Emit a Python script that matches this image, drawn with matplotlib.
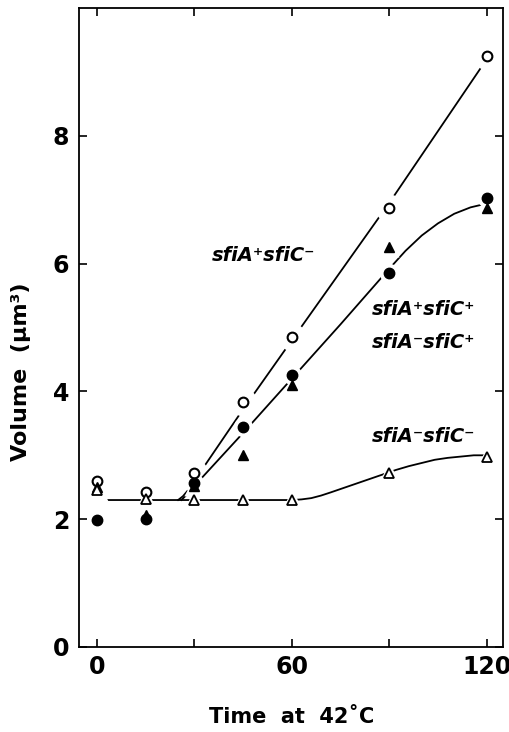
import matplotlib
matplotlib.use("Agg")
import matplotlib.pyplot as plt

# measured points (time at 42C in min, volume in um^3)
time = [0, 15, 30, 45, 60, 90, 120]
open_circle = [2.6, 2.42, 2.72, 3.84, 4.85, 6.87, 9.25]      # sfiA+ sfiC-
filled_circle = [1.98, 2.0, 2.57, 3.45, 4.25, 5.86, 7.03]    # sfiA+ sfiC+
filled_triangle = [2.5, 2.07, 2.52, 3.0, 4.1, 6.26, 6.87]    # sfiA- sfiC+
open_triangle = [2.45, 2.32, 2.3, 2.3, 2.3, 2.72, 2.98]      # sfiA- sfiC-

# hand drawn fit curves
curve_open_t = [25, 26.5, 28, 30, 45, 60, 90, 120]
curve_open_v = [2.3, 2.36, 2.45, 2.6, 3.72, 4.8, 6.95, 9.2]
curve_filled_t = [26, 28, 30, 45, 60, 75, 90, 95, 100, 105, 110, 115, 120]
curve_filled_v = [2.3, 2.4, 2.52, 3.35, 4.2, 5.05, 5.92, 6.2, 6.44, 6.63, 6.78, 6.88, 6.94]
curve_flat_t = [2, 15, 30, 45, 60, 63, 66, 69, 72, 76, 80, 84, 88, 92, 96, 100, 104, 108, 112, 116, 120]
curve_flat_v = [2.3, 2.3, 2.3, 2.3, 2.3, 2.31, 2.33, 2.37, 2.42, 2.49, 2.56, 2.63, 2.7, 2.77, 2.83, 2.88, 2.93, 2.96, 2.98, 3.0, 3.0]

labels = ["sfiA\u207AsfiC\u207B", "sfiA\u207AsfiC\u207A", "sfiA\u207BsfiC\u207A", "sfiA\u207BsfiC\u207B"]
label_pos = [(35.5, 6.13), (84.5, 5.28), (84.5, 4.77), (84.5, 3.3)]

fig = plt.figure(figsize=(5.1, 7.32), dpi=100)
ax = fig.add_axes([79 / 510, 85 / 732, 424 / 510, 639 / 732])

lw = 1.3
ax.plot(curve_open_t, curve_open_v, color="black", lw=lw, zorder=1)
ax.plot(time, open_circle, ls="none", marker="o", ms=20, mfc="white", mec="none", zorder=1.1)
ax.plot(curve_filled_t, curve_filled_v, color="black", lw=lw, zorder=1.2)
ax.plot(time, filled_circle, ls="none", marker="o", ms=14, mfc="white", mec="none", zorder=1.3)
ax.plot(time, filled_triangle, ls="none", marker="^", ms=14, mfc="white", mec="none", zorder=1.3)
ax.plot(curve_flat_t, curve_flat_v, color="black", lw=lw, zorder=1.4)
ax.plot(time, open_triangle, ls="none", marker="^", ms=16, mfc="white", mec="none", zorder=1.5)

ax.plot(time, open_circle, ls="none", marker="o", ms=7, mfc="white", mec="black", mew=1.5, zorder=3)
ax.plot(time, filled_circle, ls="none", marker="o", ms=7.5, color="black", zorder=3)
ax.plot(time, filled_triangle, ls="none", marker="^", ms=7, color="black", zorder=3.1)
ax.plot(time, open_triangle, ls="none", marker="^", ms=6.5, mfc="white", mec="black", mew=1.3, zorder=3.2)

for lab, (tx, ty) in zip(labels, label_pos):
    ax.text(tx, ty, lab, fontsize=14, fontweight="bold", fontstyle="italic",
            ha="left", va="center")

ax.set_xlim(-5.5, 125)
ax.set_ylim(0, 10)
ax.set_xticks([0, 30, 60, 90, 120])
ax.set_xticklabels(["0", "", "60", "", "120"])
ax.set_yticks([0, 2, 4, 6, 8])
ax.tick_params(direction="in", length=6, width=1.2, top=True, right=True,
               labelsize=17, pad=7)
ax.tick_params(axis="x", pad=6)
for t in ax.get_xticklabels() + ax.get_yticklabels():
    t.set_fontweight("bold")
for s in ax.spines.values():
    s.set_linewidth(1.3)

fig.text(21 / 510, 1 - 372 / 732, "Volume  (\u00B5m\u00B3)", rotation=90,
         fontsize=16, fontweight="bold", ha="center", va="center")
fig.text(292 / 510, 1 - 717 / 732, "Time  at  42\u02DAC", fontsize=15,
         fontweight="bold", ha="center", va="center")

fig.savefig("out.png", dpi=100)
